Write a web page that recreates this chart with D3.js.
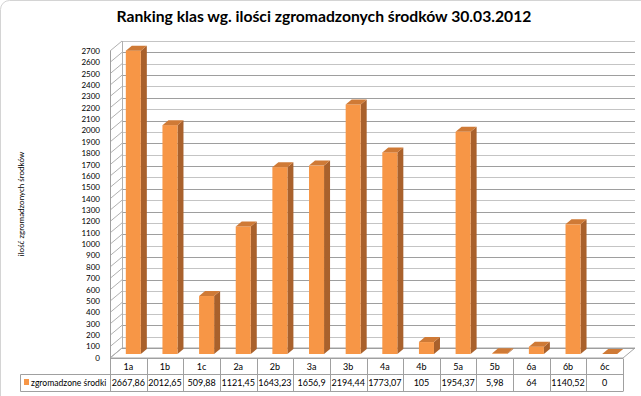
<!DOCTYPE html>
<html><head><meta charset="utf-8">
<script src="https://cdn.jsdelivr.net/npm/d3@7"></script>
<style>
html,body{margin:0;padding:0;background:#fff;}
svg{display:block;}
text{font-family:Lato,"Noto Sans",sans-serif;fill:#000;}
</style></head>
<body>
<svg id="chart" width="641" height="396"></svg>
<script>
const title = "Ranking klas wg. ilości zgromadzonych środków 30.03.2012";
const yAxisTitle = "ilość zgromadzonych środków";
const seriesName = "zgromadzone środki";
const categories = ["1a","1b","1c","2a","2b","3a","3b","4a","4b","5a","5b","6a","6b","6c"];
const values = [2667.86, 2012.65, 509.88, 1121.45, 1643.23, 1656.9, 2194.44, 1773.07, 105, 1954.37, 5.98, 64, 1140.52, 0];
const yTicks = d3.range(0, 2701, 100);

const svg = d3.select("#chart");

// geometry
const x0 = 110, x1 = 623;         // front floor edge
const y0 = 358, yTop = 51;        // front axis 0 .. 2700
const DX = 12, DY = -10;          // wall depth
const FX = 5, FY = -4;            // bar front offset
const BX = 6, BY = -5;            // bar depth

const x = d3.scaleBand().domain(categories).range([x0, x1]);
const y = d3.scaleLinear().domain([0, 2700]).range([y0, yTop]);

// outer border
svg.append("rect").attr("x",0.5).attr("y",0.5).attr("width",700).attr("height",420)
  .attr("rx",9).attr("fill","none").attr("stroke","#d4d4d4");

// title
svg.append("text").attr("x",324).attr("y",22).attr("text-anchor","middle")
  .attr("font-size",15.7).attr("font-weight","bold").text(title);

// y axis title
svg.append("text").attr("transform","translate(24,204) rotate(-90)")
  .attr("text-anchor","middle").attr("font-size",8).text(yAxisTitle);

// floor
svg.append("path")
  .attr("d",`M${x0},${y0}L${x0+DX},${y0+DY}L${x1+DX},${y0+DY}L${x1},${y0}Z`)
  .attr("fill","#fff").attr("stroke","#a6a6a6");

// back wall gridlines and side wall diagonals
const g = svg.append("g");
yTicks.forEach((t,i) => {
  const yy = Math.round(y(t)+DY)+0.5;
  g.append("line").attr("x1",x0+DX).attr("x2",x1+DX).attr("y1",yy).attr("y2",yy)
    .attr("stroke", i%2 ? "#c4c4c4" : "#9e9e9e");
  g.append("line").attr("x1",x0).attr("y1",y(t)).attr("x2",x0+DX).attr("y2",y(t)+DY)
    .attr("stroke","#b0b0b0");
});
g.append("line").attr("x1",x0+DX+0.5).attr("x2",x0+DX+0.5).attr("y1",y(2700)+DY).attr("y2",y0+DY)
  .attr("stroke","#b0b0b0");
g.append("line").attr("x1",x0+0.5).attr("x2",x0+0.5).attr("y1",y(2700)).attr("y2",y0)
  .attr("stroke","#a0a0a0");

// y tick labels
svg.append("g").selectAll("text").data(yTicks).join("text")
  .attr("x",100).attr("y",d=>y(d)).attr("dy","0.35em").attr("text-anchor","end")
  .attr("font-size",8).text(d=>d);

// bars
const bw = x.bandwidth()*0.41;
const bars = svg.append("g").selectAll("g").data(categories.map((c,i)=>({c,v:values[i]}))).join("g");
bars.each(function(d){
  const gx = d3.select(this);
  const cx = x(d.c) + x.bandwidth()/2 + FX;
  const l = cx - bw/2, r = cx + bw/2;
  const b = y(0) + FY, t = y(d.v) + FY;
  gx.append("path").attr("d",`M${r},${b}L${r+BX},${b+BY}L${r+BX},${t+BY}L${r},${t}Z`)
    .attr("fill","#a9612c");
  if (b - t > 0.2)
    gx.append("rect").attr("x",l).attr("y",t).attr("width",bw).attr("height",b-t).attr("fill","#f79646");
  gx.append("path").attr("d",`M${l},${t}L${l+BX},${t+BY}L${r+BX},${t+BY}L${r},${t}Z`)
    .attr("fill","#cf7a36");
});

// data table
const tb = svg.append("g");
const rowTop = 358.5, rowMid = 374.5, rowBot = 391.5, legL = 20.5;
const lineC = "#a0a0a0";
tb.append("line").attr("x1",x0).attr("x2",x1).attr("y1",rowTop).attr("y2",rowTop).attr("stroke",lineC);
tb.append("line").attr("x1",legL).attr("x2",x1).attr("y1",rowMid).attr("y2",rowMid).attr("stroke",lineC);
tb.append("line").attr("x1",legL).attr("x2",x1).attr("y1",rowBot).attr("y2",rowBot).attr("stroke",lineC);
tb.append("line").attr("x1",legL).attr("x2",legL).attr("y1",rowMid).attr("y2",rowBot).attr("stroke",lineC);
categories.concat(["_end"]).forEach((c)=>{
  const xx = Math.round(c==="_end" ? x1 : x(c)) + 0.5;
  tb.append("line").attr("x1",xx).attr("x2",xx).attr("y1",rowTop).attr("y2",rowBot).attr("stroke",lineC);
});
tb.selectAll("text.cat").data(categories).join("text").attr("class","cat")
  .attr("x",d=>x(d)+x.bandwidth()/2).attr("y",370).attr("text-anchor","middle")
  .attr("font-size",9).text(d=>d);
tb.selectAll("text.val").data(values).join("text").attr("class","val")
  .attr("x",(d,i)=>x(categories[i])+x.bandwidth()/2).attr("y",386).attr("text-anchor","middle")
  .attr("font-size",9).text(d=>String(d).replace(".",","));
tb.append("rect").attr("x",24).attr("y",379).attr("width",5).attr("height",6).attr("fill","#f79646");
tb.append("text").attr("x",31).attr("y",386).attr("font-size",8.6).text(seriesName);
</script>
</body></html>
